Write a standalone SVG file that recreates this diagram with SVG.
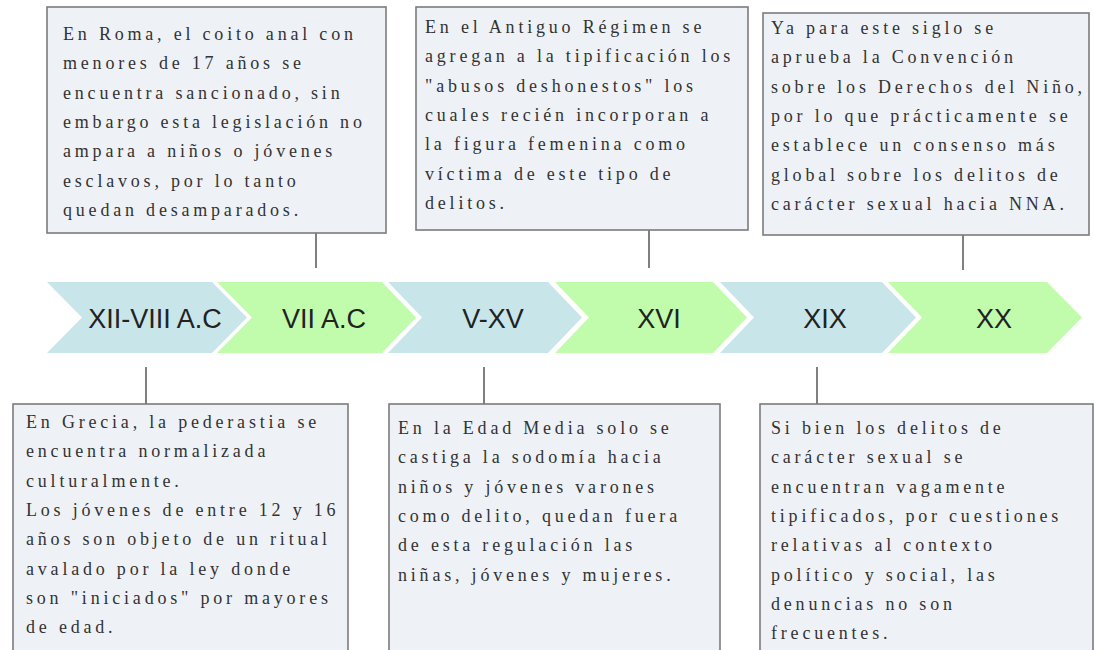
<svg xmlns="http://www.w3.org/2000/svg" width="1094" height="650" viewBox="0 0 1094 650">
<style>
.box{fill:#eef2f7;stroke:#7b7b7b;stroke-width:1.6}
.txt{font-family:"Liberation Serif","Times New Roman",serif;font-size:18px;letter-spacing:3.8px;fill:#333}
.lbl{font-family:"Liberation Sans",Arial,sans-serif;font-size:27px;fill:#222;text-anchor:middle}
.blue{fill:#c8e6ea}
.green{fill:#c0fcac}
.con{stroke:#808080;stroke-width:2;fill:none}
</style>
<rect width="1094" height="650" fill="#ffffff"/>
<g id="connectors">
<line class="con" x1="316" y1="233" x2="316" y2="268"/>
<line class="con" x1="649" y1="230" x2="649" y2="268"/>
<line class="con" x1="963" y1="235" x2="963" y2="270"/>
<line class="con" x1="146" y1="367" x2="146" y2="404"/>
<line class="con" x1="484" y1="367" x2="484" y2="404"/>
<line class="con" x1="817" y1="367" x2="817" y2="404"/>
</g>
<g id="c1"><polygon class="blue" points="47,282 212,282 247,317.5 212,353 47,353 82,317.5"/><text class="lbl" x="155" y="328">XII-VIII A.C</text></g>
<g id="c2"><polygon class="green" points="217,282 382,282 416,317.5 382,353 217,353 252,317.5"/><text class="lbl" x="324" y="328">VII A.C</text></g>
<g id="c3"><polygon class="blue" points="388,282 548,282 582,317.5 548,353 388,353 422,317.5"/><text class="lbl" x="493" y="328">V-XV</text></g>
<g id="c4"><polygon class="green" points="555,282 713,282 747,317.5 713,353 555,353 589,317.5"/><text class="lbl" x="659" y="328">XVI</text></g>
<g id="c5"><polygon class="blue" points="720,282 882,282 916,317.5 882,353 720,353 754,317.5"/><text class="lbl" x="825" y="328">XIX</text></g>
<g id="c6"><polygon class="green" points="888,282 1047,282 1082,317.5 1047,353 888,353 922,317.5"/><text class="lbl" x="994" y="328">XX</text></g>
<g id="boxA"><rect class="box" x="47" y="7" width="339" height="226"/>
<text class="txt"><tspan x="63" y="40">En Roma, el coito anal con</tspan><tspan x="63" y="69.3">menores de 17 años se</tspan><tspan x="63" y="98.6">encuentra sancionado, sin</tspan><tspan x="63" y="127.9">embargo esta legislación no</tspan><tspan x="63" y="157.2">ampara a niños o jóvenes</tspan><tspan x="63" y="186.5">esclavos, por lo tanto</tspan><tspan x="63" y="215.8">quedan desamparados.</tspan></text></g>
<g id="boxB"><rect class="box" x="416" y="7" width="332" height="223"/>
<text class="txt"><tspan x="425" y="33">En el Antiguo Régimen se</tspan><tspan x="425" y="62.3">agregan a la tipificación los</tspan><tspan x="425" y="91.6">"abusos deshonestos" los</tspan><tspan x="425" y="120.9">cuales recién incorporan a</tspan><tspan x="425" y="150.2">la figura femenina como</tspan><tspan x="425" y="179.5">víctima de este tipo de</tspan><tspan x="425" y="208.8">delitos.</tspan></text></g>
<g id="boxC"><rect class="box" x="763" y="13" width="326" height="222"/>
<text class="txt"><tspan x="771" y="34">Ya para este siglo se</tspan><tspan x="771" y="63.3">aprueba la Convención</tspan><tspan x="771" y="92.6">sobre los Derechos del Niño,</tspan><tspan x="771" y="121.9">por lo que prácticamente se</tspan><tspan x="771" y="151.2">establece un consenso más</tspan><tspan x="771" y="180.5">global sobre los delitos de</tspan><tspan x="771" y="209.8">carácter sexual hacia NNA.</tspan></text></g>
<g id="boxD"><rect class="box" x="13" y="404" width="335" height="260"/>
<text class="txt"><tspan x="26" y="428">En Grecia, la pederastia se</tspan><tspan x="26" y="457.3">encuentra normalizada</tspan><tspan x="26" y="486.6">culturalmente.</tspan><tspan x="26" y="515.9">Los jóvenes de entre 12 y 16</tspan><tspan x="26" y="545.2">años son objeto de un ritual</tspan><tspan x="26" y="574.5">avalado por la ley donde</tspan><tspan x="26" y="603.8">son "iniciados" por mayores</tspan><tspan x="26" y="633.1">de edad.</tspan></text></g>
<g id="boxE"><rect class="box" x="389" y="404" width="331" height="260"/>
<text class="txt"><tspan x="398" y="434">En la Edad Media solo se</tspan><tspan x="398" y="463.3">castiga la sodomía hacia</tspan><tspan x="398" y="492.6">niños y jóvenes varones</tspan><tspan x="398" y="521.9">como delito, quedan fuera</tspan><tspan x="398" y="551.2">de esta regulación las</tspan><tspan x="398" y="580.5">niñas, jóvenes y mujeres.</tspan></text></g>
<g id="boxF"><rect class="box" x="760" y="404" width="333" height="260"/>
<text class="txt"><tspan x="771" y="434">Si bien los delitos de</tspan><tspan x="771" y="463.3">carácter sexual se</tspan><tspan x="771" y="492.6">encuentran vagamente</tspan><tspan x="771" y="521.9">tipificados, por cuestiones</tspan><tspan x="771" y="551.2">relativas al contexto</tspan><tspan x="771" y="580.5">político y social, las</tspan><tspan x="771" y="609.8">denuncias no son</tspan><tspan x="771" y="639.1">frecuentes.</tspan></text></g>
</svg>
